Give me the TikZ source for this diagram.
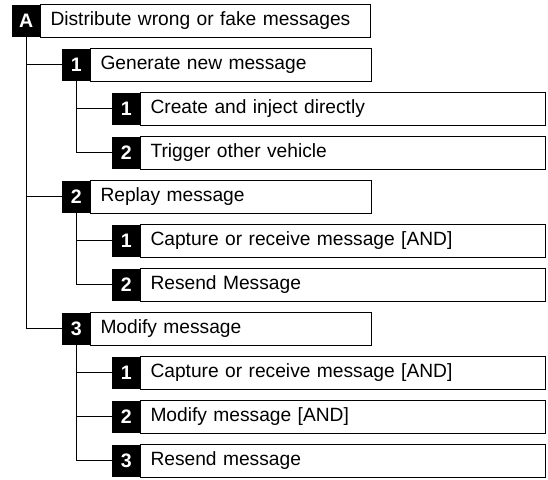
\documentclass[tikz,border=0pt]{standalone}
\usepackage{fontspec}
\setmainfont{Liberation Sans}
\usetikzlibrary{positioning}
\tikzstyle{numbox} = [fill=black,text=white,font=\fontsize{19.5pt}{22pt}\selectfont\bfseries,
    minimum width=28.5pt,minimum height=32.5pt,inner sep=0pt,outer sep=0pt,anchor=north west]
\tikzstyle{textbox} = [draw,line width=0.9pt,font=\fontsize{19.2pt}{22pt}\selectfont,
    minimum height=32.5pt,inner xsep=10pt,inner ysep=0pt,outer sep=0pt,anchor=west,align=left]
\tikzstyle{branch} = [line width=0.9pt]
\newcommand{\attackstep}[6]{
    \node(#1) at (#2,#3) [numbox] {#4};
    \node(#1-text) at (#1.east) [textbox, text width=#6] {#5};
}

\begin{document}
\begin{tikzpicture}[x=1pt,y=-1pt]
	\useasboundingbox (0,0) rectangle (548,479);
	
	\attackstep{stepA}{12}{4.5}{A}{Distribute wrong or fake messages}{310pt}
	
	\attackstep{stepA1}{62}{48.5}{1}{Generate new message}{261pt}
	\attackstep{stepA11}{112}{92.5}{1}{Create and inject directly}{385pt}
	\attackstep{stepA12}{112}{136.5}{2}{Trigger other vehicle}{385pt}
	
	\attackstep{stepA2}{62}{180.5}{2}{Replay message}{261pt}
	\attackstep{stepA21}{112}{224.5}{1}{Capture or receive message [AND]}{385pt}
	\attackstep{stepA22}{112}{268.5}{2}{Resend Message}{385pt}
	
	\attackstep{stepA3}{62}{312.5}{3}{Modify message}{261pt}
	\attackstep{stepA31}{112}{356.5}{1}{Capture or receive message [AND]}{385pt}
	\attackstep{stepA32}{112}{400.5}{2}{Modify message [AND]}{385pt}
	\attackstep{stepA33}{112}{444.5}{3}{Resend message}{385pt}
	
	% tree connectors
	\draw[branch] (stepA.south) |- (stepA1.west);
	\draw[branch] (stepA.south) |- (stepA2.west);
	\draw[branch] (stepA.south) |- (stepA3.west);
	
	\draw[branch] (stepA1.south) |- (stepA11.west);
	\draw[branch] (stepA1.south) |- (stepA12.west);
	\draw[branch] (stepA2.south) |- (stepA21.west);
	\draw[branch] (stepA2.south) |- (stepA22.west);
	\draw[branch] (stepA3.south) |- (stepA31.west);
	\draw[branch] (stepA3.south) |- (stepA32.west);
	\draw[branch] (stepA3.south) |- (stepA33.west);
\end{tikzpicture}
\end{document}
